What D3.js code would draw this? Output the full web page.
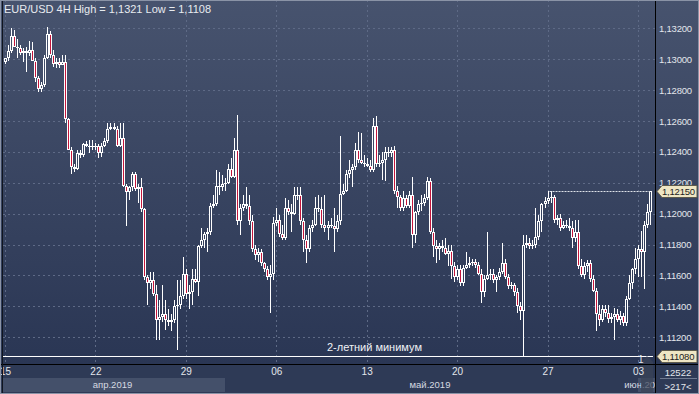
<!DOCTYPE html>
<html lang="ru">
<head>
<meta charset="utf-8">
<title>EUR/USD 4H</title>
<script src="https://d3js.org/d3.v7.min.js"></script>
<style>
  html, body { margin: 0; padding: 0; background: #2d3955; }
  svg { display: block; font-family: "Liberation Sans", Arial, sans-serif; }
</style>
</head>
<body>
<script>
// 4H bars, 15 Apr - 3 Jun 2019, 30 bars per week (one line = 10 bars)
var opens = [
  1.1298,1.1301,1.1305,1.1315,1.1308,1.1307,1.1304,1.1305,1.1304,1.1306,
  1.1299,1.1288,1.1281,1.1283,1.1301,1.1316,1.1303,1.1297,1.1298,1.1296,
  1.1298,1.1261,1.1241,1.1230,1.1229,1.1239,1.1238,1.1245,1.1244,1.1244,
  1.1243,1.1244,1.1239,1.1244,1.1247,1.1255,1.1256,1.1255,1.1244,1.1249,
  1.1218,1.1214,1.1217,1.1226,1.1216,1.1217,1.1203,1.1159,1.1155,1.1157,
  1.1148,1.1131,1.1133,1.1135,1.1131,1.1130,1.1131,1.1140,1.1141,1.1147,
  1.1161,1.1148,1.1149,1.1158,1.1156,1.1179,1.1183,1.1187,1.1188,1.1205,
  1.1206,1.1218,1.1217,1.1219,1.1220,1.1229,1.1224,1.1241,1.1195,1.1204,
  1.1206,1.1205,1.1195,1.1177,1.1173,1.1175,1.1168,1.1164,1.1159,1.1161,
  1.1194,1.1196,1.1187,1.1184,1.1204,1.1201,1.1200,1.1212,1.1212,1.1195,
  1.1183,1.1177,1.1191,1.1193,1.1204,1.1203,1.1193,1.1191,1.1193,1.1192,
  1.1190,1.1195,1.1213,1.1215,1.1226,1.1228,1.1230,1.1241,1.1235,1.1233,
  1.1232,1.1231,1.1228,1.1257,1.1232,1.1233,1.1235,1.1240,1.1239,1.1241,
  1.1215,1.1211,1.1204,1.1210,1.1205,1.1212,1.1186,1.1201,1.1206,1.1207,
  1.1210,1.1221,1.1188,1.1179,1.1177,1.1179,1.1178,1.1174,1.1176,1.1166,
  1.1159,1.1164,1.1155,1.1165,1.1167,1.1168,1.1169,1.1167,1.1161,1.1149,
  1.1158,1.1160,1.1161,1.1157,1.1159,1.1162,1.1168,1.1159,1.1153,1.1154,
  1.1149,1.1140,1.1137,1.1180,1.1181,1.1179,1.1180,1.1185,1.1195,1.1206,
  1.1208,1.1210,1.1211,1.1196,1.1197,1.1191,1.1193,1.1192,1.1191,1.1184,
  1.1188,1.1166,1.1160,1.1166,1.1168,1.1158,1.1150,1.1135,1.1131,1.1138,
  1.1136,1.1132,1.1133,1.1135,1.1131,1.1134,1.1129,1.1145,1.1155,1.1164,
  1.1171,1.1177,1.1175,1.1193,1.1201
];
var highs = [
  1.1301,1.1309,1.1320,1.1319,1.1313,1.1309,1.1307,1.1308,1.1312,1.1311,
  1.1301,1.1289,1.1285,1.1303,1.1321,1.1318,1.1306,1.1301,1.1301,1.1303,
  1.1303,1.1262,1.1243,1.1232,1.1241,1.1241,1.1246,1.1247,1.1248,1.1248,
  1.1246,1.1245,1.1246,1.1249,1.1259,1.1259,1.1259,1.1257,1.1259,1.1259,
  1.1219,1.1218,1.1227,1.1227,1.1219,1.1223,1.1204,1.1160,1.1162,1.1162,
  1.1154,1.1144,1.1154,1.1144,1.1138,1.1135,1.1144,1.1157,1.1157,1.1172,
  1.1164,1.1154,1.1164,1.1164,1.1180,1.1191,1.1188,1.1191,1.1207,1.1212,
  1.1228,1.1227,1.1225,1.1223,1.1232,1.1236,1.1249,1.1264,1.1206,1.1212,
  1.1217,1.1212,1.1199,1.1180,1.1178,1.1177,1.1169,1.1166,1.1167,1.1198,
  1.1204,1.1199,1.1193,1.1210,1.1209,1.1206,1.1217,1.1217,1.1217,1.1197,
  1.1186,1.1193,1.1196,1.1211,1.1212,1.1211,1.1212,1.1195,1.1197,1.1204,
  1.1199,1.1250,1.1219,1.1228,1.1235,1.1232,1.1246,1.1253,1.1252,1.1238,
  1.1236,1.1235,1.1262,1.1263,1.1238,1.1240,1.1243,1.1243,1.1243,1.1244,
  1.1218,1.1212,1.1215,1.1212,1.1215,1.1224,1.1202,1.1209,1.1212,1.1213,
  1.1224,1.1223,1.1191,1.1183,1.1181,1.1183,1.1184,1.1180,1.1180,1.1169,
  1.1167,1.1167,1.1167,1.1175,1.1172,1.1171,1.1171,1.1169,1.1164,1.1160,
  1.1188,1.1164,1.1164,1.1160,1.1165,1.1181,1.1171,1.1161,1.1156,1.1155,
  1.1152,1.1143,1.1186,1.1186,1.1184,1.1183,1.1204,1.1199,1.1207,1.1211,
  1.1215,1.1215,1.1212,1.1199,1.1200,1.1195,1.1196,1.1197,1.1195,1.1196,
  1.1196,1.1171,1.1169,1.1170,1.1170,1.1160,1.1152,1.1141,1.1141,1.1141,
  1.1141,1.1136,1.1139,1.1138,1.1137,1.1136,1.1147,1.1160,1.1165,1.1178,
  1.1180,1.1189,1.1195,1.1206,1.1215
];
var lows = [
  1.1297,1.1299,1.1304,1.1312,1.1301,1.1303,1.1298,1.1292,1.1302,1.1302,
  1.1285,1.1279,1.1279,1.1282,1.1300,1.1301,1.1295,1.1294,1.1294,1.1296,
  1.1259,1.1241,1.1226,1.1227,1.1228,1.1236,1.1237,1.1243,1.1239,1.1241,
  1.1241,1.1236,1.1237,1.1243,1.1246,1.1254,1.1254,1.1243,1.1243,1.1217,
  1.1192,1.1209,1.1215,1.1215,1.1207,1.1201,1.1157,1.1141,1.1151,1.1147,
  1.1118,1.1118,1.1130,1.1125,1.1127,1.1124,1.1129,1.1112,1.1138,1.1145,
  1.1145,1.1138,1.1141,1.1155,1.1147,1.1178,1.1178,1.1175,1.1186,1.1204,
  1.1205,1.1212,1.1215,1.1215,1.1219,1.1223,1.1223,1.1193,1.1186,1.1202,
  1.1203,1.1193,1.1175,1.1170,1.1169,1.1166,1.1162,1.1157,1.1136,1.1157,
  1.1192,1.1185,1.1183,1.1183,1.1199,1.1188,1.1199,1.1209,1.1193,1.1175,
  1.1168,1.1175,1.1188,1.1192,1.1201,1.1191,1.1188,1.1183,1.1191,1.1175,
  1.1188,1.1193,1.1212,1.1214,1.1223,1.1217,1.1228,1.1233,1.1232,1.1230,
  1.1230,1.1227,1.1227,1.1230,1.1230,1.1222,1.1221,1.1237,1.1237,1.1213,
  1.1204,1.1202,1.1202,1.1204,1.1204,1.1178,1.1181,1.1199,1.1202,1.1205,
  1.1209,1.1187,1.1172,1.1168,1.1170,1.1175,1.1173,1.1166,1.1158,1.1156,
  1.1157,1.1153,1.1153,1.1164,1.1165,1.1166,1.1165,1.1160,1.1142,1.1146,
  1.1157,1.1157,1.1155,1.1149,1.1157,1.1161,1.1158,1.1151,1.1151,1.1147,
  1.1136,1.1131,1.1108,1.1178,1.1177,1.1177,1.1178,1.1183,1.1188,1.1204,
  1.1206,1.1207,1.1194,1.1193,1.1189,1.1190,1.1191,1.1189,1.1178,1.1182,
  1.1164,1.1159,1.1158,1.1162,1.1156,1.1149,1.1124,1.1127,1.1130,1.1133,
  1.1129,1.1129,1.1118,1.1130,1.1128,1.1127,1.1127,1.1144,1.1151,1.1161,
  1.1159,1.1159,1.1151,1.1191,1.1193
];
var closes = [
  1.1301,1.1305,1.1315,1.1308,1.1307,1.1304,1.1305,1.1304,1.1306,1.1299,
  1.1288,1.1281,1.1283,1.1301,1.1316,1.1303,1.1297,1.1298,1.1296,1.1298,
  1.1261,1.1241,1.1230,1.1229,1.1239,1.1238,1.1245,1.1244,1.1244,1.1243,
  1.1244,1.1239,1.1244,1.1247,1.1255,1.1256,1.1255,1.1244,1.1249,1.1218,
  1.1214,1.1217,1.1226,1.1216,1.1217,1.1203,1.1159,1.1155,1.1157,1.1148,
  1.1131,1.1133,1.1135,1.1131,1.1130,1.1131,1.1140,1.1141,1.1147,1.1161,
  1.1148,1.1149,1.1158,1.1156,1.1179,1.1183,1.1187,1.1188,1.1205,1.1206,
  1.1218,1.1217,1.1219,1.1220,1.1229,1.1224,1.1241,1.1195,1.1204,1.1206,
  1.1205,1.1195,1.1177,1.1173,1.1175,1.1168,1.1164,1.1159,1.1161,1.1194,
  1.1196,1.1187,1.1184,1.1204,1.1201,1.1200,1.1212,1.1212,1.1195,1.1183,
  1.1177,1.1191,1.1193,1.1204,1.1203,1.1193,1.1191,1.1193,1.1192,1.1190,
  1.1195,1.1213,1.1215,1.1226,1.1228,1.1230,1.1241,1.1235,1.1233,1.1232,
  1.1231,1.1228,1.1257,1.1232,1.1233,1.1235,1.1240,1.1239,1.1241,1.1215,
  1.1211,1.1204,1.1210,1.1205,1.1212,1.1186,1.1201,1.1206,1.1207,1.1210,
  1.1221,1.1188,1.1179,1.1177,1.1179,1.1178,1.1174,1.1176,1.1166,1.1159,
  1.1164,1.1155,1.1165,1.1167,1.1168,1.1169,1.1167,1.1161,1.1149,1.1158,
  1.1160,1.1161,1.1157,1.1159,1.1162,1.1168,1.1159,1.1153,1.1154,1.1149,
  1.1140,1.1137,1.1180,1.1181,1.1179,1.1180,1.1185,1.1195,1.1206,1.1208,
  1.1210,1.1211,1.1196,1.1197,1.1191,1.1193,1.1192,1.1191,1.1184,1.1188,
  1.1166,1.1160,1.1166,1.1168,1.1158,1.1150,1.1135,1.1131,1.1138,1.1136,
  1.1132,1.1133,1.1135,1.1131,1.1134,1.1129,1.1145,1.1155,1.1164,1.1171,
  1.1177,1.1175,1.1193,1.1201,1.1215
];

var weekTicks = [0, 30, 60, 90, 120, 150, 180, 210];
var weekLabels = ["15", "22", "29", "06", "13", "20", "27", "03"];
var monthStarts = [0, 72, 210];
var monthLabels = ["апр.2019", "май.2019", "июн.2019"];
var priceTicks = [1.112, 1.114, 1.116, 1.118, 1.120, 1.122, 1.124, 1.126, 1.128, 1.130, 1.132];
var lastPrice = 1.1215;
var minLevel = 1.1108;
var minText = "2-летний минимум";
var titleText = "EUR/USD 4H High = 1,1321 Low = 1,1108";
var infoTop = "12522";
var infoBottom = ">217<";

var W = 699, H = 394;
var plotL = 3, plotR = 655, plotB = 364;
var n = closes.length;
var smallFont = "9.5px";

var svg = d3.select("body").append("svg")
  .attr("width", W)
  .attr("height", H);

var defs = svg.append("defs");
var grad = defs.append("linearGradient")
  .attr("id", "bg")
  .attr("gradientUnits", "userSpaceOnUse")
  .attr("x1", 0).attr("y1", 0).attr("x2", 0).attr("y2", plotB);
grad.append("stop").attr("offset", "0%").attr("stop-color", "#47536e");
grad.append("stop").attr("offset", "100%").attr("stop-color", "#2a3654");
defs.append("clipPath").attr("id", "plotClip")
  .append("rect").attr("x", plotL).attr("y", 0).attr("width", plotR - plotL).attr("height", plotB);
defs.append("clipPath").attr("id", "axisClip")
  .append("rect").attr("x", 0).attr("y", plotB).attr("width", plotR).attr("height", H - plotB);

var x = d3.scaleLinear().domain([0, 214]).range([5, 650]);
var y = d3.scaleLinear().domain([1.112, 1.132]).range([337.3, 28.3]);
var fmt = function(v) { return v.toFixed(5).replace(".", ","); };

// backgrounds
svg.append("rect").attr("width", W).attr("height", H).attr("fill", "#2e3a56");
svg.append("rect").attr("x", 0).attr("y", 0).attr("width", W).attr("height", plotB).attr("fill", "url(#bg)");

// grid
var grid = svg.append("g").attr("clip-path", "url(#plotClip)")
  .attr("stroke", "#5e6a86").attr("stroke-dasharray", "2,3").attr("shape-rendering", "crispEdges");
grid.selectAll("line.h").data(priceTicks).enter().append("line")
  .attr("x1", plotL).attr("x2", plotR)
  .attr("y1", function(d) { return Math.round(y(d)) + 0.5; })
  .attr("y2", function(d) { return Math.round(y(d)) + 0.5; });
grid.selectAll("line.v").data(weekTicks).enter().append("line")
  .attr("y1", 0).attr("y2", plotB)
  .attr("x1", function(d) { return Math.round(x(d)) + 0.5; })
  .attr("x2", function(d) { return Math.round(x(d)) + 0.5; });

svg.append("text").attr("x", 4).attr("y", 13)
  .attr("font-size", "11px").attr("fill", "#e8ebf0").text(titleText);

// candles
var candles = d3.range(n).map(function(i) {
  return { i: i, o: opens[i], h: highs[i], l: lows[i], c: closes[i] };
});
var cg = svg.append("g").attr("clip-path", "url(#plotClip)").attr("shape-rendering", "crispEdges");
cg.selectAll("g").data(candles).enter().append("g").each(function(d) {
  var g = d3.select(this);
  var cx = Math.round(x(d.i));
  var yt = Math.round(y(Math.max(d.o, d.c)));
  var yb = Math.round(y(Math.min(d.o, d.c)));
  if (yb - yt < 1) yb = yt + 1;
  var yh = Math.round(y(d.h)), yl = Math.round(y(d.l));
  if (yt > yh) g.append("rect").attr("x", cx).attr("y", yh).attr("width", 1).attr("height", yt - yh).attr("fill", "#fff");
  if (yl > yb) g.append("rect").attr("x", cx).attr("y", yb).attr("width", 1).attr("height", yl - yb).attr("fill", "#fff");
  g.append("rect").attr("x", cx - 1).attr("y", yt).attr("width", 3).attr("height", yb - yt).attr("fill", "#fff");
  if (yb - yt >= 3) {
    g.append("rect").attr("x", cx).attr("y", yt + 1).attr("width", 1).attr("height", yb - yt - 2)
      .attr("fill", d.c < d.o ? "#c4163c" : "url(#bg)");
  }
});

// level lines
var yMin = Math.round(y(minLevel)) + 0.5;
svg.append("line").attr("x1", plotL).attr("x2", plotR - 2).attr("y1", yMin).attr("y2", yMin)
  .attr("stroke", "#fff").attr("stroke-width", 1);
var hiIdx = highs.findIndex(function(h, i) { return i > 150 && h >= lastPrice; });
var yLast = Math.round(y(lastPrice)) + 0.5;
svg.append("line").attr("x1", x(hiIdx) + 2).attr("x2", x(n - 1)).attr("y1", yLast).attr("y2", yLast)
  .attr("stroke", "#dfe3ea").attr("stroke-dasharray", "2,1");

svg.append("text").attr("x", 327).attr("y", 351)
  .attr("font-size", "11px").attr("fill", "#f0f2f5").text(minText);

// shift marker near the right edge
svg.append("path").attr("d", "M641,394L641,362L647,356L653,362L653,394Z").attr("fill", "#3b4357").attr("opacity", 0.75);
svg.append("text").attr("x", 638).attr("y", 363).attr("font-size", "10px").attr("fill", "#e0e4ea").text("1");

// price axis
var yAxis = svg.append("g").attr("transform", "translate(" + (plotR + 2) + ",0)")
  .call(d3.axisRight(y).tickValues(priceTicks).tickFormat(fmt).tickSize(0).tickPadding(2));
yAxis.select(".domain").remove();
yAxis.selectAll("text").attr("fill", "#e3e6ec").attr("font-size", smallFont)
  .attr("letter-spacing", "-0.2px")
  .attr("font-family", "'Liberation Sans', Arial, sans-serif");

// price tags
[lastPrice, minLevel].forEach(function(v) {
  var yy = Math.round(y(v)) + 0.5;
  svg.append("path")
    .attr("d", "M" + (plotR + 2) + "," + yy + "L" + (plotR + 7) + "," + (yy - 6) + "L697," + (yy - 6) +
      "L697," + (yy + 6) + "L" + (plotR + 7) + "," + (yy + 6) + "Z")
    .attr("fill", "#efe6c4").attr("stroke", "#5d5a4c");
  svg.append("text").attr("x", plotR + 7).attr("y", yy + 3.5)
    .attr("font-size", smallFont).attr("letter-spacing", "-0.2px")
    .attr("fill", "#1d1d1d").text(fmt(v));
});

// time axis
svg.append("rect").attr("x", 0).attr("y", plotB).attr("width", W).attr("height", H - plotB).attr("fill", "#2e3a56");
var months = svg.append("g").attr("clip-path", "url(#axisClip)");
monthStarts.forEach(function(s, k) {
  var x0 = k === 0 ? plotL : x(s);
  var x1 = k < monthStarts.length - 1 ? x(monthStarts[k + 1]) : plotR - 3;
  if (k % 2 === 0) {
    months.append("rect").attr("x", x0).attr("y", 378).attr("width", Math.min(x1 + 3, plotR) - x0).attr("height", 14)
      .attr("fill", "#44506a");
  }
});
svg.append("path").attr("d", "M641,364L641,394L653,394L653,364Z").attr("fill", "#3b4357").attr("opacity", 0.7);
monthStarts.forEach(function(s, k) {
  var x0 = k === 0 ? plotL : x(s);
  var x1 = k < monthStarts.length - 1 ? x(monthStarts[k + 1]) : plotR - 3;
  months.append("text").attr("x", (x0 + x1) / 2).attr("y", 388).attr("text-anchor", "middle")
    .attr("font-size", smallFont).attr("fill", "#d6dae2").text(monthLabels[k]);
});

var xAxis = svg.append("g").attr("transform", "translate(0," + plotB + ")")
  .call(d3.axisBottom(x).tickValues(weekTicks).tickFormat(function(d, i) { return weekLabels[i]; })
    .tickSize(0).tickPadding(4));
xAxis.select(".domain").remove();
xAxis.selectAll("text").attr("fill", "#e3e6ec").attr("font-size", "10px")
  .attr("font-family", "'Liberation Sans', Arial, sans-serif");

// info box bottom right
svg.append("text").attr("x", 678).attr("y", 376).attr("text-anchor", "middle")
  .attr("font-size", smallFont).attr("fill", "#e3e6ec").text(infoTop);
svg.append("line").attr("x1", 660).attr("x2", 697).attr("y1", 378.5).attr("y2", 378.5).attr("stroke", "#6f7a90");
svg.append("text").attr("x", 678).attr("y", 390).attr("text-anchor", "middle")
  .attr("font-size", smallFont).attr("fill", "#e3e6ec").text(infoBottom);

// frame lines
svg.append("line").attr("x1", 0).attr("x2", W).attr("y1", plotB + 0.5).attr("y2", plotB + 0.5).attr("stroke", "#000");
svg.append("line").attr("x1", plotR + 0.5).attr("x2", plotR + 0.5).attr("y1", 0).attr("y2", H).attr("stroke", "#000");
svg.append("line").attr("x1", 2.5).attr("x2", 2.5).attr("y1", 0).attr("y2", H).attr("stroke", "#10151f");
svg.append("rect").attr("x", 0.5).attr("y", 0.5).attr("width", W - 1).attr("height", H - 1)
  .attr("fill", "none").attr("stroke", "#8a93a6");
</script>
</body>
</html>
